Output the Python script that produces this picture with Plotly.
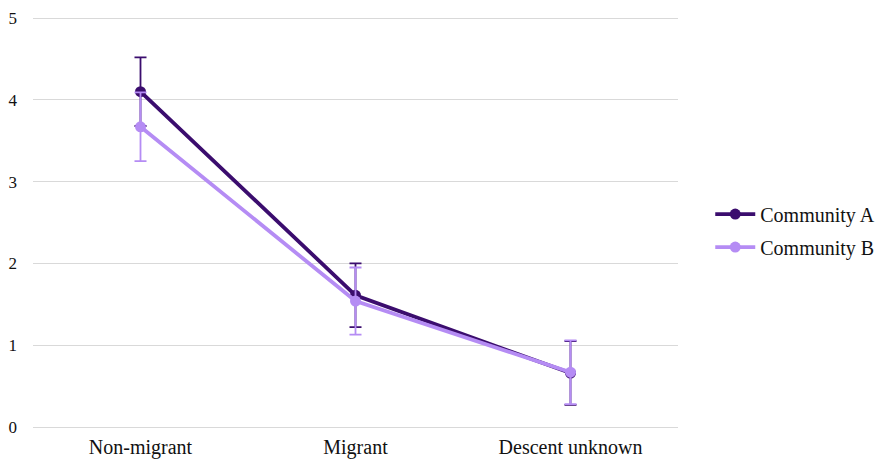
import plotly.graph_objects as go

categories = ["Non-migrant", "Migrant", "Descent unknown"]
community_a = [4.10, 1.61, 0.66]
community_a_err = [0.42, 0.39, 0.39]
community_b = [3.67, 1.54, 0.67]
community_b_err = [0.42, 0.41, 0.39]
y_ticks = [0, 1, 2, 3, 4, 5]

color_a = "#3b0d6e"
color_b = "#b58cf4"
font_family = "Liberation Serif, Times New Roman, serif"

fig = go.Figure()
fig.add_trace(go.Scatter(
    x=categories, y=community_a, name="Community A", mode="lines+markers",
    legendgroup="a",
    line=dict(color=color_a, width=3.8), marker=dict(color=color_a, size=11),
    error_y=dict(type="data", array=community_a_err, visible=True,
                 color=color_a, thickness=1.8, width=6),
))
fig.add_trace(go.Scatter(
    x=categories, y=community_b, name="Community B", mode="lines+markers",
    legendgroup="b",
    line=dict(color=color_b, width=3.8), marker=dict(color=color_b, size=11),
    error_y=dict(type="data", array=community_b_err, visible=True,
                 color=color_b, thickness=1.8, width=6),
))

fig.update_layout(
    width=876, height=461,
    margin=dict(l=33, r=198, t=16, b=34, autoexpand=False),
    plot_bgcolor="white", paper_bgcolor="white",
    font=dict(family=font_family, size=20, color="#111111"),
    showlegend=True,
    legend=dict(x=1.05, y=0.478, xanchor="left", yanchor="middle",
                font=dict(family=font_family, size=20, color="#111111"),
                tracegroupgap=4, itemwidth=40),
    xaxis=dict(showgrid=False, showline=False, zeroline=False, automargin=False,
               ticks="", ticklabelstandoff=6, range=[-0.5, 2.5],
               tickfont=dict(size=20)),
    yaxis=dict(range=[0, 5.025], tickvals=y_ticks, showgrid=True, automargin=False,
               gridcolor="#d9d9d9", gridwidth=1, zeroline=True,
               zerolinecolor="#d9d9d9", zerolinewidth=1, showline=False,
               ticks="", ticklabelstandoff=15, tickfont=dict(size=17)),
)

fig.write_html("out.html")
